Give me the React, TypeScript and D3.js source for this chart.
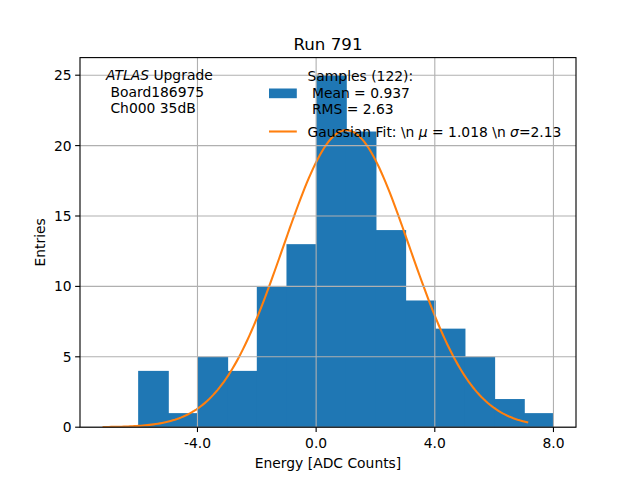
import React from "react";
import * as d3 from "d3";

// histogram bins (left edge, width 1) and counts
const binEdges = [-6, -5, -4, -3, -2, -1, 0, 1, 2, 3, 4, 5, 6, 7, 8];
const binCounts = [4, 1, 5, 4, 10, 13, 25, 21, 14, 9, 7, 5, 2, 1];

const xTicks = [-4, 0, 4, 8];
const yTicks = [0, 5, 10, 15, 20, 25];

// gaussian fit parameters, as given in the legend
const fitMu = 1.018;
const fitSigma = 2.13;
const fitAmp = 21.1;
const fitRange = [-7.2, 7.15];

const W = 640;
const H = 480;
const margin = { top: 57.6, right: 64, bottom: 52.8, left: 80 };
const FONT = "DejaVu Sans, sans-serif";
const FS = 13.89; // 10pt at 100 dpi

const App: React.FC = () => {
  const x = d3
    .scaleLinear()
    .domain([-7.96, 8.76])
    .range([margin.left, W - margin.right]);
  const y = d3
    .scaleLinear()
    .domain([0, 26.25])
    .range([H - margin.bottom, margin.top]);

  const bins = binCounts.map((c, i) => ({ x0: binEdges[i], x1: binEdges[i + 1], c }));

  const fitPts = d3
    .range(0, 201)
    .map((i) => fitRange[0] + ((fitRange[1] - fitRange[0]) * i) / 200)
    .map((v) => [v, fitAmp * Math.exp(-((v - fitMu) ** 2) / (2 * fitSigma * fitSigma))] as [number, number]);

  const line = d3
    .line<[number, number]>()
    .x((d) => x(d[0]))
    .y((d) => y(d[1]));

  const x0 = margin.left;
  const x1 = W - margin.right;
  const y0 = H - margin.bottom;
  const y1 = margin.top;

  return (
    <svg
      width={W}
      height={H}
      style={{ position: "absolute", left: 0, top: 0, background: "white" }}
      fontFamily={FONT}
    >
      <rect x={0} y={0} width={W} height={H} fill="white" />

      {/* bars */}
      {bins.map((b, i) => (
        <rect
          key={i}
          x={x(b.x0)}
          y={y(b.c)}
          width={x(b.x1) - x(b.x0) + (i < bins.length - 1 ? 1 : 0)}
          height={y(0) - y(b.c)}
          fill="#1f77b4"
        />
      ))}

      {/* fit curve */}
      <path d={line(fitPts) || ""} fill="none" stroke="#ff7f0e" strokeWidth={2.08} />

      {/* grid */}
      {xTicks.map((t) => (
        <line key={"gx" + t} x1={x(t)} x2={x(t)} y1={y0} y2={y1} stroke="#b0b0b0" strokeWidth={1.11} />
      ))}
      {yTicks.map((t) => (
        <line key={"gy" + t} x1={x0} x2={x1} y1={y(t)} y2={y(t)} stroke="#b0b0b0" strokeWidth={1.11} />
      ))}

      {/* spines */}
      <rect x={x0} y={y1} width={x1 - x0} height={y0 - y1} fill="none" stroke="black" strokeWidth={1.11} />

      {/* ticks */}
      {xTicks.map((t) => (
        <g key={"tx" + t}>
          <line x1={x(t)} x2={x(t)} y1={y0} y2={y0 + 4.86} stroke="black" strokeWidth={1.11} />
          <text x={x(t)} y={y0 + 20.5} textAnchor="middle" fontSize={FS} fill="black">
            {t.toFixed(1)}
          </text>
        </g>
      ))}
      {yTicks.map((t) => (
        <g key={"ty" + t}>
          <line x1={x0} x2={x0 - 4.86} y1={y(t)} y2={y(t)} stroke="black" strokeWidth={1.11} />
          <text x={x0 - 8.3} y={y(t) + 5} textAnchor="end" fontSize={FS} fill="black">
            {t}
          </text>
        </g>
      ))}

      {/* labels */}
      <text x={(x0 + x1) / 2} y={467.5} textAnchor="middle" fontSize={FS} fill="black">
        Energy [ADC Counts]
      </text>
      <text
        transform={`translate(44.5,${(y0 + y1) / 2}) rotate(-90)`}
        textAnchor="middle"
        fontSize={FS}
        fill="black"
      >
        Entries
      </text>
      <text x={(x0 + x1) / 2} y={49.5} textAnchor="middle" fontSize={16.67} fill="black">
        Run 791
      </text>

      {/* ATLAS label */}
      <g fontSize={FS} fill="black">
        <text x={106} y={79.5}>
          <tspan fontStyle="italic">ATLAS</tspan>
          <tspan> Upgrade</tspan>
        </text>
        <text x={106} y={97} xmlSpace="preserve">
          {" Board186975"}
        </text>
        <text x={106} y={113} xmlSpace="preserve">
          {" Ch000 35dB"}
        </text>
      </g>

      {/* legend */}
      <g fontSize={FS} fill="black">
        <rect x={269} y={88.5} width={27.8} height={9.7} fill="#1f77b4" />
        <text x={307.5} y={81} xmlSpace="preserve">Samples (122):</text>
        <text x={307.5} y={97.5} xmlSpace="preserve">{" Mean = 0.937"}</text>
        <text x={307.5} y={113.5} xmlSpace="preserve">{" RMS = 2.63"}</text>
        <line x1={269} x2={296.8} y1={131.5} y2={131.5} stroke="#ff7f0e" strokeWidth={2.08} />
        <text x={307.5} y={136.5} xmlSpace="preserve">
          <tspan>{"Gaussian Fit: \\n "}</tspan>
          <tspan fontStyle="italic">μ</tspan>
          <tspan>{" = 1.018 \\n "}</tspan>
          <tspan fontStyle="italic">σ</tspan>
          <tspan>=2.13</tspan>
        </text>
      </g>
    </svg>
  );
};

export default App;
